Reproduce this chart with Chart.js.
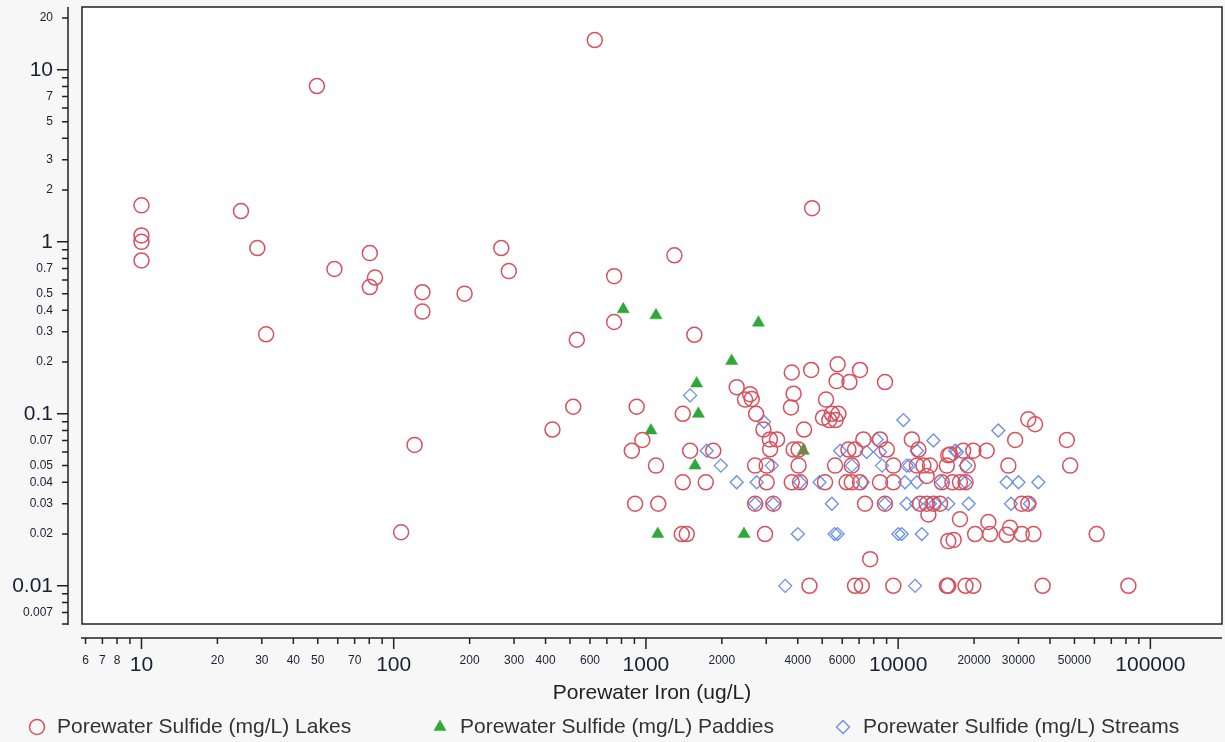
<!DOCTYPE html>
<html>
<head>
<meta charset="utf-8">
<script src="https://cdn.jsdelivr.net/npm/chart.js@4.4.1/dist/chart.umd.min.js"></script>
<style>
html, body { margin: 0; padding: 0; background: #f7f7f7; }
canvas { display: block; }
</style>
</head>
<body>
<canvas id="chart" width="1225" height="742"></canvas>
<script>
// Porewater iron (ug/L) vs porewater sulfide (mg/L)
var lakesIron = [10, 10, 10, 10, 24.8, 28.8, 31.2, 49.6, 58.2, 80.4, 84.3, 80.4, 107, 121, 130, 130, 191, 267, 286, 426,
    515, 532, 627, 748, 748, 879, 906, 919, 968, 1096, 1119, 1297, 1387, 1452, 1400, 1400, 1497, 1556, 1727, 1849,
    2290, 2589, 2472, 2627, 2735, 2923, 3100, 3310, 3107, 2710, 3011, 3011, 2710, 3200, 2966, 4560, 3786, 4520, 5754, 7060,
    5700, 6410, 8870, 3850, 3760, 5176, 5035, 5459, 5796, 5333, 5650, 4236, 3850, 4030, 4030, 5624, 6547, 6351, 6745, 7278,
    8476, 9016, 9570, 11330, 12030, 11870, 12590, 13370, 12980, 15800, 15600, 3786, 4083, 5130, 6250, 6547, 7060, 8476, 9570, 7390,
    8866, 12210, 12980, 13800, 14660, 13180, 15800, 7745, 4449, 6745, 7175, 9570, 15600, 32800, 34900, 29100, 46650, 22440, 19860, 18110,
    16080, 18870, 27350, 48080, 18500, 16420, 14900, 17580, 30920, 32800, 17580, 22790, 16600, 20190, 23140, 26920, 27770, 30920, 34400, 61240,
    15800, 18500, 19860, 37400, 81800]
var lakesSulfide = [1.63, 1.09, 1.0, 0.78, 1.51, 0.92, 0.29, 8.05, 0.695, 0.86, 0.62, 0.546, 0.0205, 0.066, 0.51, 0.393, 0.5, 0.92, 0.676, 0.081,
    0.11, 0.27, 14.9, 0.632, 0.342, 0.061, 0.03, 0.11, 0.0705, 0.05, 0.03, 0.835, 0.02, 0.02, 0.1, 0.04, 0.061, 0.288, 0.04, 0.061,
    0.143, 0.13, 0.121, 0.122, 0.1, 0.081, 0.071, 0.071, 0.0622, 0.05, 0.05, 0.04, 0.03, 0.03, 0.02, 1.57, 0.174, 0.18, 0.194, 0.18,
    0.155, 0.153, 0.153, 0.131, 0.109, 0.121, 0.095, 0.1, 0.1, 0.092, 0.092, 0.081, 0.062, 0.062, 0.05, 0.05, 0.05, 0.062, 0.062, 0.071,
    0.071, 0.062, 0.05, 0.071, 0.062, 0.05, 0.05, 0.05, 0.0435, 0.0574, 0.05, 0.04, 0.04, 0.04, 0.04, 0.04, 0.04, 0.04, 0.04, 0.03,
    0.03, 0.03, 0.03, 0.03, 0.03, 0.026, 0.0182, 0.0143, 0.01, 0.01, 0.01, 0.01, 0.01, 0.093, 0.087, 0.0705, 0.0705, 0.061, 0.061, 0.061,
    0.058, 0.05, 0.05, 0.05, 0.04, 0.04, 0.04, 0.04, 0.03, 0.03, 0.0244, 0.0235, 0.0185, 0.02, 0.02, 0.0198, 0.0218, 0.02, 0.02, 0.02,
    0.01, 0.01, 0.01, 0.01, 0.01]

var paddiesIron = [813, 1096, 2793, 2188, 1589, 1614, 1047, 1566, 4207, 1114, 2448]
var paddiesSulfide = [0.405, 0.374, 0.339, 0.203, 0.15, 0.1, 0.08, 0.05, 0.061, 0.02, 0.02]

var streamsIron = [1497, 1742, 1981, 2290, 2750, 2710, 3200, 2938, 3155, 4000, 5600, 5750, 3566, 4083, 4876, 5888, 6547, 5459, 7500, 8220,
    8476, 8630, 7245, 8866, 10490, 13800, 11870, 10810, 11070, 10640, 11870, 14900, 10810, 11780, 13370, 14000, 10020, 10330, 12410, 11670,
    24950, 16830, 17100, 18500, 18500, 26920, 30000, 35950, 15800, 19040, 28020, 33300]
var streamsSulfide = [0.128, 0.061, 0.05, 0.04, 0.04, 0.03, 0.03, 0.09, 0.05, 0.02, 0.02, 0.02, 0.01, 0.04, 0.04, 0.061, 0.05, 0.03, 0.06, 0.071,
    0.06, 0.05, 0.04, 0.03, 0.092, 0.07, 0.061, 0.05, 0.05, 0.04, 0.04, 0.04, 0.03, 0.03, 0.03, 0.03, 0.02, 0.02, 0.02, 0.01,
    0.08, 0.061, 0.06, 0.05, 0.04, 0.04, 0.04, 0.04, 0.03, 0.03, 0.03, 0.03]

// tick marks and which of them carry a label
var xTicks = [6, 7, 8, 9, 10, 20, 30, 40, 50, 60, 70, 80, 90, 100, 200, 300, 400, 500, 600, 700, 800, 900, 1000,
    2000, 3000, 4000, 5000, 6000, 7000, 8000, 9000, 10000, 20000, 30000, 40000, 50000, 60000, 70000, 80000, 90000, 100000]
var xLabels = [6, 7, 8, 10, 20, 30, 40, 50, 70, 100, 200, 300, 400, 600, 1000, 2000, 4000, 6000, 10000, 20000, 30000, 50000, 100000]
var yTicks = [0.006, 0.007, 0.008, 0.009, 0.01, 0.02, 0.03, 0.04, 0.05, 0.06, 0.07, 0.08, 0.09, 0.1, 0.2, 0.3, 0.4, 0.5, 0.6, 0.7, 0.8, 0.9,
    1, 2, 3, 4, 5, 6, 7, 8, 9, 10, 20]
var yLabels = [0.007, 0.01, 0.02, 0.03, 0.04, 0.05, 0.07, 0.1, 0.2, 0.3, 0.4, 0.5, 0.7, 1, 2, 3, 5, 7, 10, 20]

var seriesNames = ['Porewater Sulfide (mg/L) Lakes', 'Porewater Sulfide (mg/L) Paddies', 'Porewater Sulfide (mg/L) Streams']

var FONT = '"Liberation Sans", Arial, sans-serif'

var isDecade = function (v) {
    var l = Math.log10(v)
    return Math.abs(l - Math.round(l)) < 1e-9
}

var toPoints = function (xs, ys) {
    return xs.map(function (x, i) { return {x: x, y: ys[i]} })
}

var tickFont = function (ctx) {
    var big = ctx.tick && isDecade(ctx.tick.value)
    return {family: FONT, size: big ? 21 : 12}
}

// fixed axis box sizes, no extra label padding pushed into the layout
var fixSize = function (scale, w, h) {
    if (w) scale.width = w
    if (h) scale.height = h
    scale.paddingTop = 0
    scale.paddingBottom = 0
    scale.paddingLeft = 0
    scale.paddingRight = 0
}

// white plot box, detached axes with ticks, and the legend row underneath
var axisFrame = {
    id: 'axisFrame',
    beforeDraw: function (chart) {
        var ctx = chart.ctx, a = chart.chartArea
        ctx.save()
        ctx.fillStyle = '#f7f7f7'
        ctx.fillRect(0, 0, chart.width, chart.height)
        ctx.fillStyle = '#ffffff'
        ctx.fillRect(a.left, a.top, a.right - a.left, a.bottom - a.top)
        ctx.restore()
    },
    afterDraw: function (chart) {
        var ctx = chart.ctx, a = chart.chartArea
        var xs = chart.scales.x, ys = chart.scales.y
        var axX = a.left - 14, axY = a.bottom + 14

        ctx.save()
        ctx.strokeStyle = '#222'
        ctx.lineWidth = 1.5
        ctx.strokeRect(a.left, a.top, a.right - a.left, a.bottom - a.top)

        ctx.beginPath()
        ctx.moveTo(axX, a.top)
        ctx.lineTo(axX, a.bottom + 1)
        ctx.moveTo(a.left - 1, axY)
        ctx.lineTo(a.right, axY)
        ys.ticks.forEach(function (t) {
            var p = ys.getPixelForValue(t.value)
            ctx.moveTo(axX, p)
            ctx.lineTo(axX - (isDecade(t.value) ? 11 : 6), p)
        })
        xs.ticks.forEach(function (t) {
            var p = xs.getPixelForValue(t.value)
            ctx.moveTo(p, axY)
            ctx.lineTo(p, axY + (isDecade(t.value) ? 11 : 6))
        })
        ctx.stroke()

        // legend
        var y = 727
        ctx.font = '21px ' + FONT
        ctx.textBaseline = 'middle'
        ctx.textAlign = 'left'
        chart.data.datasets.forEach(function (ds, i) {
            var tx = 57 + i * 403
            var mx = tx - 20
            ctx.fillStyle = ds.pointBackgroundColor
            ctx.strokeStyle = ds.pointBorderColor
            ctx.lineWidth = ds.pointBorderWidth
            Chart.helpers.drawPoint(ctx, {
                pointStyle: ds.pointStyle,
                radius: ds.pointRadius,
                borderWidth: ds.pointBorderWidth,
                rotation: 0
            }, mx, y)
            ctx.fillStyle = '#333'
            ctx.fillText(ds.label, tx, y)
        })
        ctx.restore()
    }
}

new Chart(document.getElementById('chart').getContext('2d'), {
    type: 'scatter',
    plugins: [axisFrame],
    data: {
        datasets: [{
            label: seriesNames[0],
            data: toPoints(lakesIron, lakesSulfide),
            pointStyle: 'circle',
            pointRadius: 7.5,
            pointBorderWidth: 1.5,
            pointBorderColor: '#d9505d',
            pointBackgroundColor: 'rgba(0,0,0,0)'
        }, {
            label: seriesNames[1],
            data: toPoints(paddiesIron, paddiesSulfide),
            pointStyle: 'triangle',
            pointRadius: 7,
            pointBorderWidth: 0.5,
            pointBorderColor: '#2fa83a',
            pointBackgroundColor: '#2fa83a'
        }, {
            label: seriesNames[2],
            data: toPoints(streamsIron, streamsSulfide),
            pointStyle: 'rectRot',
            pointRadius: 6.5,
            pointBorderWidth: 1.3,
            pointBorderColor: '#6a8ee8',
            pointBackgroundColor: 'rgba(0,0,0,0)'
        }]
    },
    options: {
        responsive: false,
        animation: false,
        devicePixelRatio: 1,
        events: [],
        layout: {
            autoPadding: false,
            padding: {top: 7, right: 3, bottom: 36, left: 0}
        },
        plugins: {
            legend: {display: false},
            tooltip: {enabled: false}
        },
        scales: {
            x: {
                type: 'logarithmic',
                min: 5.81,
                max: 192300,
                grid: {display: false, drawTicks: false},
                border: {display: false},
                afterBuildTicks: function (scale) {
                    scale.ticks = xTicks.map(function (v) { return {value: v} })
                },
                afterFit: function (scale) {
                    fixSize(scale, 0, 82)
                },
                ticks: {
                    autoSkip: false,
                    maxRotation: 0,
                    padding: 29,
                    color: '#1e1e36',
                    font: tickFont,
                    callback: function (value) {
                        return xLabels.indexOf(value) >= 0 ? String(value) : ''
                    }
                },
                title: {
                    display: true,
                    text: 'Porewater Iron (ug/L)',
                    color: '#222',
                    padding: 0,
                    font: {family: FONT, size: 21}
                }
            },
            y: {
                type: 'logarithmic',
                min: 0.006,
                max: 23.2,
                grid: {display: false, drawTicks: false},
                border: {display: false},
                afterBuildTicks: function (scale) {
                    scale.ticks = yTicks.map(function (v) { return {value: v} })
                },
                afterFit: function (scale) {
                    fixSize(scale, 82, 0)
                },
                ticks: {
                    autoSkip: false,
                    padding: 29,
                    color: '#1e1e36',
                    font: tickFont,
                    callback: function (value) {
                        return yLabels.indexOf(value) >= 0 ? String(value) : ''
                    }
                }
            }
        }
    }
})
</script>
</body>
</html>
